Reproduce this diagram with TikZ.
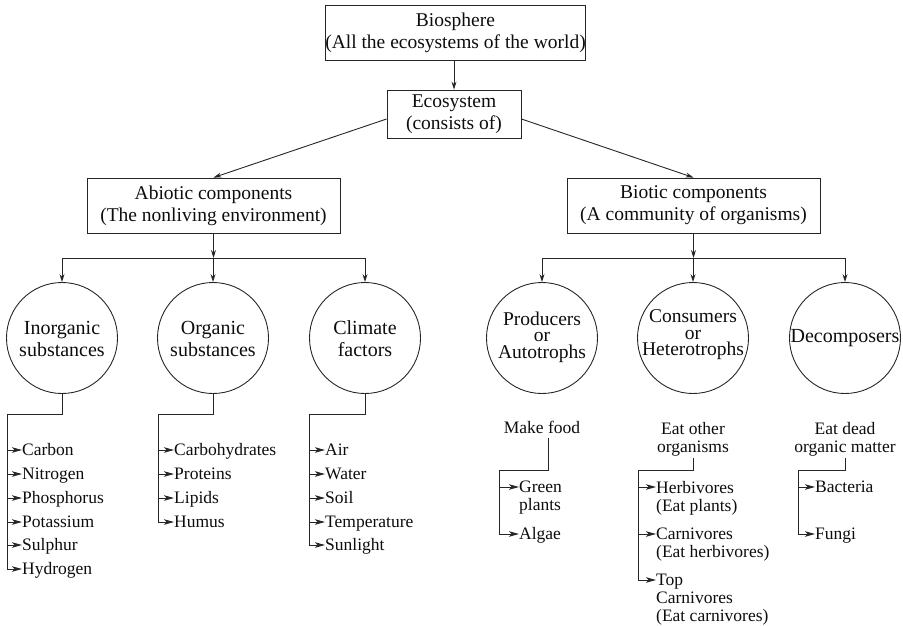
\documentclass[tikz,border=0pt]{standalone}
\usepackage{fontspec}
\setmainfont{Liberation Serif}
\usetikzlibrary{arrows.meta}

\begin{document}
\begin{tikzpicture}[x=1pt,y=-1pt,
  line/.style={draw=black!85, line width=0.9pt},
  arr/.style={line, -{Stealth[length=8pt,width=5pt]}},
  iarr/.style={line, -{Stealth[length=10pt,width=5.5pt,inset=2.5pt]}},
  box/.style={draw=black!85, line width=0.9pt, rectangle, inner sep=0pt, align=center,
    font=\fontsize{19.5}{22}\selectfont, text=black!95},
  circ/.style={draw=black!85, line width=0.9pt, circle, minimum size=111pt, inner sep=0pt},
  ctext/.style={align=center, inner sep=0pt, font=\fontsize{20}{22}\selectfont, text=black!95},
  ctextc/.style={align=center, inner sep=0pt, font=\fontsize{19.5}{16.5}\selectfont, text=black!95},
  item/.style={anchor=west, inner sep=0pt, text height=11.6pt, text depth=0pt,
    font=\fontsize{17.5}{18}\selectfont, text=black!95},
  mitem/.style={anchor=north west, inner sep=0pt, align=left,
    font=\fontsize{17.5}{18}\selectfont, text=black!95},
  note/.style={align=center, inner sep=0pt, font=\fontsize{17.5}{18}\selectfont, text=black!95},
]
\useasboundingbox (0,0) rectangle (903,625);

% top of the hierarchy
\node[box, minimum width=237pt, minimum height=55pt] (bio) at (455.5,32.5)
  {Biosphere\\(All the ecosystems of the world)};
\node[box, minimum width=134pt, minimum height=48pt] (eco) at (454,114)
  {Ecosystem\\(consists of)};
\node[box, minimum width=253pt, minimum height=55pt] (abio) at (213.5,205.5)
  {Abiotic components\\(The nonliving environment)};
\node[box, minimum width=253pt, minimum height=55pt] (biot) at (693.5,205.5)
  {Biotic components\\(A community of organisms)};

\draw[arr] (bio.south -| eco.north) -- (eco.north);
\draw[arr] ([yshift=-5pt]eco.west) -- (abio.north);
\draw[arr] ([yshift=-5pt]eco.east) -- (biot.north);

% component circles
\node[circ] (c1) at (62,338) {};
\node[circ] (c2) at (213,338) {};
\node[circ] (c3) at (365,338) {};
\node[circ] (c4) at (542,338) {};
\node[circ] (c5) at (693,338) {};
\node[circ] (c6) at (845,338) {};

\node[ctext] (t1) at (62,339) {Inorganic\\substances};
\node[ctext] (t2) at (213,339) {Organic\\substances};
\node[ctext] (t3) at (365,339) {Climate\\factors};
\node[ctextc] (t4) at (542,337) {Producers\\or\\Autotrophs};
\node[ctextc] (t5) at (693,335) {Consumers\\or\\Heterotrophs};
\node[ctext] (t6) at (845,338) {Decomposers};

% branching below the two component boxes
\coordinate (aj) at (213.5,258);
\coordinate (bj) at (693.5,258);
\draw[arr] (abio.south) -- (aj);
\draw[arr] (biot.south) -- (bj);
\draw[line] (c1.north |- aj) -- (c3.north |- aj);
\draw[line] (c4.north |- bj) -- (c6.north |- bj);
\foreach \c in {c1,c2,c3}{\draw[arr] (\c.north |- aj) -- (\c.north);}
\foreach \c in {c4,c5,c6}{\draw[arr] (\c.north |- bj) -- (\c.north);}

% inorganic substances
\node[item] (a1) at (22,450) {Carbon};
\node[item] (a2) at (22,474) {Nitrogen};
\node[item] (a3) at (22,498) {Phosphorus};
\node[item] (a4) at (22,522) {Potassium};
\node[item] (a5) at (22,545) {Sulphur};
\node[item] (a6) at (22,569) {Hydrogen};
\coordinate (sa) at (7,414);
\draw[line] (c1.south) |- (sa);
\draw[iarr] (sa) |- (a6.west);
\foreach \n in {a1,a2,a3,a4,a5}{\draw[iarr] (sa |- \n.west) -- (\n.west);}

% organic substances
\node[item] (b1) at (174,450) {Carbohydrates};
\node[item] (b2) at (174,474) {Proteins};
\node[item] (b3) at (174,498) {Lipids};
\node[item] (b4) at (174,522) {Humus};
\coordinate (sb) at (158,414);
\draw[line] (c2.south) |- (sb);
\draw[iarr] (sb) |- (b4.west);
\foreach \n in {b1,b2,b3}{\draw[iarr] (sb |- \n.west) -- (\n.west);}

% climate factors
\node[item] (k1) at (325,450) {Air};
\node[item] (k2) at (325,474) {Water};
\node[item] (k3) at (325,498) {Soil};
\node[item] (k4) at (325,522) {Temperature};
\node[item] (k5) at (325,545) {Sunlight};
\coordinate (sk) at (309,414);
\draw[line] (c3.south) |- (sk);
\draw[iarr] (sk) |- (k5.west);
\foreach \n in {k1,k2,k3,k4}{\draw[iarr] (sk |- \n.west) -- (\n.west);}

% producers
\node[note, text height=11.6pt, text depth=0pt] (mf) at (542,428) {Make food};
\node[mitem] (p1) at (519,481) {Green\\plants};
\node[item] (p2) at (519,534) {Algae};
\coordinate (p1a) at ([yshift=-6pt]p1.north west);
\coordinate (sp) at (499,470);
\draw[line] ([xshift=6pt,yshift=-4pt]mf.south) |- (sp);
\draw[iarr] (sp) |- (p2.west);
\draw[iarr] (sp |- p1a) -- (p1a);

% consumers
\node[note] (eo) at (693,439) {Eat other\\organisms};
\node[mitem] (h1) at (656,481) {Herbivores\\(Eat plants)};
\node[mitem] (h2) at (656,528) {Carnivores\\(Eat herbivores)};
\node[mitem] (h3) at (656,574) {Top\\Carnivores\\(Eat carnivores)};
\coordinate (h1a) at ([yshift=-6pt]h1.north west);
\coordinate (h2a) at ([yshift=-6pt]h2.north west);
\coordinate (h3a) at ([yshift=-6pt]h3.north west);
\coordinate (sh) at (638,470);
\draw[line] ([yshift=-2pt]eo.south) |- (sh);
\draw[iarr] (sh) |- (h3a);
\draw[iarr] (sh |- h1a) -- (h1a);
\draw[iarr] (sh |- h2a) -- (h2a);

% decomposers
\node[note] (ed) at (845,439) {Eat dead\\organic matter};
\node[item] (d1) at (815,487) {Bacteria};
\node[item] (d2) at (815,534) {Fungi};
\coordinate (sd) at (798,470);
\draw[line] ([yshift=-2pt]ed.south) |- (sd);
\draw[iarr] (sd) |- (d2.west);
\draw[iarr] (sd |- d1.west) -- (d1.west);
\end{tikzpicture}
\end{document}
